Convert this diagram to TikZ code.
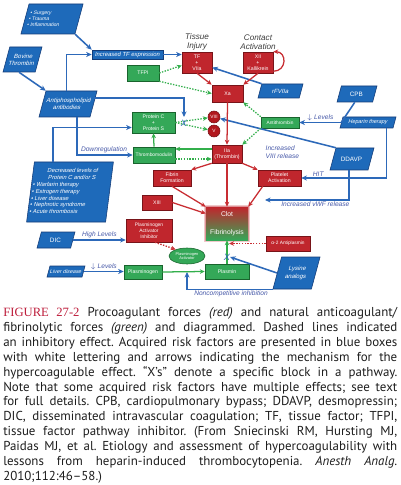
\documentclass[tikz,border=0pt]{standalone}
\usepackage{fontspec}
\usetikzlibrary{arrows.meta,calc,shapes.geometric}
\newfontfamily\diag{Liberation Sans}
\newfontfamily\diagback[FakeSlant=-0.27]{Liberation Sans}
\newfontfamily\diagslant[FakeSlant=0.12]{Liberation Sans}
\newfontfamily\capfont{PT Sans}
\newfontfamily\figfont{Liberation Serif}
\definecolor{boxred}{RGB}{192,38,45}
\definecolor{boxreddark}{RGB}{120,20,25}
\definecolor{circred}{RGB}{178,24,30}
\definecolor{boxgreen}{RGB}{52,168,88}
\definecolor{boxgreendark}{RGB}{25,100,45}
\definecolor{riskblue}{RGB}{30,106,186}
\definecolor{riskdark}{RGB}{20,60,120}
\definecolor{arrowblue}{RGB}{45,105,185}
\definecolor{arrowred}{RGB}{200,45,50}
\definecolor{arrowgreen}{RGB}{50,175,75}
\definecolor{labelblue}{RGB}{70,88,168}
\definecolor{headgray}{RGB}{60,60,60}
\definecolor{captionred}{RGB}{190,30,60}
\definecolor{captiontext}{RGB}{30,30,30}
\begin{document}
\begin{tikzpicture}[
            x=0.25mm, y=-0.25mm,
            redbox/.style={rectangle, draw=boxreddark, fill=boxred, text=white, inner sep=0.5pt, align=center, font=\diag\fontsize{3.7}{4.4}\selectfont},
            greenbox/.style={rectangle, draw=boxgreendark, fill=boxgreen, text=white, inner sep=0.5pt, align=center, font=\diag\fontsize{3.7}{4.4}\selectfont},
            factor/.style={circle, draw=boxreddark, fill=circred, text=white, inner sep=0pt, minimum size=3mm, font=\diag\fontsize{3.4}{4}\selectfont},
            risk/.style={rectangle, xslant=#1, draw=riskdark, fill=riskblue, text=white, inner sep=0.5pt, align=center, font=\diag\fontsize{4.3}{5.1}\selectfont},
            risk/.default=0.27,
            riskbox/.style={rectangle, draw=riskdark, fill=riskblue, text=white, inner sep=0.5pt, font=\diag\itshape\fontsize{4.2}{5}\selectfont},
            clotbox/.style={rectangle, top color=boxred, bottom color=boxgreen, text=white, align=center, inner sep=0pt, minimum width=10.5mm, minimum height=8.25mm, font=\diag\fontsize{4.8}{5.6}\selectfont, preaction={draw=boxred!25, line width=3.5pt}, preaction={draw=boxred!50, line width=1.6pt}},
            head/.style={text=headgray, align=center, inner sep=1pt, font=\diag\itshape\fontsize{5.8}{6.6}\selectfont},
            note/.style={text=labelblue, inner sep=1pt, font=\diag\itshape\fontsize{4.7}{5.6}\selectfont},
            block/.style={text=arrowblue, inner sep=0pt, font=\diag\itshape\fontsize{6.5}{7}\selectfont},
            redline/.style={draw=arrowred, line width=0.9pt, -{Stealth[length=3.5pt,width=3.2pt]}},
            greenline/.style={draw=arrowgreen, line width=0.9pt, -{Stealth[length=3.5pt,width=3.2pt]}},
            inhibit/.style={draw=arrowgreen, line width=0.9pt, dash pattern=on 1pt off 1pt, -{Stealth[length=3.5pt,width=3.2pt]}},
            redinhibit/.style={inhibit, draw=arrowred},
            riskline/.style={draw=arrowblue, line width=1.1pt, -{Stealth[length=4pt,width=3.6pt]}}
        ]
        \path[use as bounding box, fill=white] (0,0) rectangle (400,485);

        \node[risk, minimum width=13.5mm, minimum height=7.5mm, font=\diag\fontsize{3.6}{4.4}\selectfont] (surg) at (52,19) {\begin{tabular}{@{}l@{\hspace{10pt}}}\textbullet\ Surgery\\\textbullet\ Trauma\\\textbullet\ Inflammation\end{tabular}};
        \node[risk, minimum width=8.05mm, minimum height=6.25mm] (bovine) at (22.5,59.5) {Bovine\\Thrombin};
        \node[risk, minimum width=12.75mm, minimum height=6.5mm] (antiphos) at (68,104) {Antiphospholipid\\antibodies};
        \node[riskbox, minimum width=17.75mm, minimum height=2.25mm] (tfexp) at (127.5,54.5) {Increased TF expression};
        \node[greenbox, minimum width=8mm, minimum height=4mm] (tfpi) at (143,73) {TFPI};
        \node[redbox, minimum width=7.5mm, minimum height=5.25mm] (tf) at (197,62.5) {TF\\+\\VIIa};
        \node[redbox, minimum width=7.5mm, minimum height=5.25mm] (xii) at (258,62.5) {XII\\+\\Kallikrein};
        \node[redbox, minimum width=7.75mm, minimum height=4.25mm] (xa) at (227.5,93.5) {Xa};
        \node[risk, minimum width=10.3mm, minimum height=3.5mm] (rfviia) at (280.5,91) {rFVIIa};
        \node[risk, minimum width=8.9mm, minimum height=4mm, font=\diagback\fontsize{4.5}{5.4}\selectfont] (cpb) at (357,94) {CPB};
        \node[risk, minimum width=13.25mm, minimum height=2.75mm, font=\diag\fontsize{3.9}{4.6}\selectfont] (heparin) at (368,122.5) {Heparin therapy};
        \node[greenbox, minimum width=9.5mm, minimum height=2.75mm, font=\diag\fontsize{3.4}{4}\selectfont] (at) at (280,122.5) {Antithrombin};
        \node[factor] (viii) at (214,117) {VIII};
        \node[factor] (v) at (214,131) {V};
        \node[greenbox, minimum width=10.75mm, minimum height=5.25mm] (pcs) at (153.5,122.5) {Protein C\\+\\Protein S};
        \node[greenbox, minimum width=10.5mm, minimum height=4mm, font=\diag\fontsize{3.5}{4.2}\selectfont] (tm) at (154,155) {Thrombomodulin};
        \node[redbox, minimum width=7.5mm, minimum height=4.5mm] (iia) at (227,154) {IIa\\(Thrombin)};
        \node[redbox, minimum width=9.5mm, minimum height=4mm] (fibrin) at (172,178) {Fibrin\\Formation};
        \node[redbox, minimum width=10.75mm, minimum height=4mm] (plt) at (279.5,178) {Platelet\\Activation};
        \node[redbox, minimum width=7.5mm, minimum height=3.75mm] (xiii) at (157,202.5) {XIII};
        \node[clotbox] (clot) at (227,223.5) {Clot\\[7.5pt]Fibrinolysis};
        \node[risk, minimum width=9.5mm, minimum height=5.5mm, font=\diagback\fontsize{4.5}{5.4}\selectfont] (ddavp) at (352,159) {DDAVP};
        \node[risk=0.13, minimum width=19.75mm, minimum height=15mm, font=\diagslant\fontsize{4.1}{4.8}\selectfont] (decr) at (70,192) {Decreased levels of\\Protein C and/or S\\[1pt]\begin{tabular}{@{}l@{\hspace{15pt}}}\textbullet\ Warfarin therapy\\\textbullet\ Estrogen therapy\\\textbullet\ Liver disease\\\textbullet\ Nephrotic syndrome\\\textbullet\ Acute thrombosis\end{tabular}};
        \node[risk, minimum width=8.4mm, minimum height=4mm, font=\diagback\fontsize{4.5}{5.4}\selectfont] (dic) at (56,240) {DIC};
        \node[redbox, minimum width=11.5mm, minimum height=5.75mm, font=\diag\fontsize{3.5}{4.2}\selectfont] (pai) at (149,230.5) {Plasminogen\\Activator\\Inhibitor};
        \node[ellipse, draw=boxgreendark, fill=boxgreen, text=white, inner sep=0pt, minimum width=9mm, minimum height=4mm, align=center, font=\diag\fontsize{2.8}{3.3}\selectfont] (pa) at (187,256) {Plasminogen\\Activator};
        \node[risk, minimum width=8.75mm, minimum height=2.75mm, font=\diag\fontsize{3.8}{4.5}\selectfont] (liver) at (66,271.5) {Liver disease};
        \node[greenbox, minimum width=9.5mm, minimum height=3.5mm] (plg) at (143,272) {Plasminogen};
        \node[greenbox, minimum width=11mm, minimum height=3.75mm] (plasmin) at (227,271.5) {Plasmin};
        \node[redbox, minimum width=11mm, minimum height=3.75mm, font=\diag\fontsize{3.4}{4}\selectfont] (a2ap) at (288,243.5) {α-2 Antiplasmin};
        \node[risk, minimum width=9.6mm, minimum height=8mm] (lysine) at (296.5,273) {Lysine\\analogs};

        \node[head, above] (tissue) at (tf.north) {Tissue\\Injury};
        \node[head, above] (contact) at (xii.north) {Contact\\Activation};

        \draw[riskline] (surg.south east) -- (tfexp.north west);
        \draw[riskline] (bovine.south) -- (antiphos.north west);
        \draw[riskline] (antiphos.north) ++(-5,0) |- (tfexp.west);
        \draw[riskline] (tfexp.east) -- (tfexp.east -| tf.west);
        \draw[riskline] (antiphos.east) ++(0,-6) -| (184,117);
        \draw[riskline] (decr.north) ++(-21,0) |- ($(pcs.west)+(0,5)$);
        \draw[riskline] (antiphos.south) ++(12.5,0) |- (tm.west);
        \draw[riskline] (rfviia.north west) -- ($(tf.east)+(0,5)$);
        \draw[riskline] (heparin.west) -- (at.east);
        \draw[riskline, -] (cpb.south) -- (heparin.west);
        \draw[riskline] (heparin.south) ++(20,0) |- (plt.east);
        \draw[riskline] (ddavp.north west) -- (viii);
        \coordinate (vwfend) at (265,200);
        \draw[riskline] (ddavp.south) |- (vwfend);
        \draw[riskline] (dic.east) -- (dic.east -| pai.west);
        \draw[riskline] (liver.east) -- (liver.east -| plg.west);
        \coordinate (nci) at (pa.south |- plg.east);
        \draw[riskline] (lysine.south west) -| (nci);
        \draw[riskline] (lysine.west) -- (230,257);

        \draw[redline] (tf.south) -- (xa.north west);
        \draw[redline] (xii.south) -- (xa.north east);
        \draw[redline] (xii.south east) ++(0,-2) to[out=0, in=0, looseness=1.8] (xii.north east);
        \draw[redline] (xa.south) -- (iia.north);
        \draw[redline] (iia.south west) -- (fibrin.north east);
        \draw[redline] (iia.south east) -- (plt.north west);
        \draw[redline] (iia.south) -- (clot.north);
        \draw[redline] (fibrin.south) -- (clot.north west);
        \draw[redline] (xiii.east) -- ($(clot.west)+(0,-10)$);
        \draw[redline] ($(plt.south west)+(5,0)$) -- (clot.north east);

        \draw[greenline] (tm.north) -- (pcs.south);
        \draw[greenline] ($(iia.west)+(0,-5)$) -- ($(tm.east)+(0,-6)$);
        \draw[inhibit] ($(tm.east)+(0,4)$) -- ($(iia.west)+(0,5)$);
        \draw[inhibit] (pcs.east) -- (viii);
        \draw[inhibit] (pcs.east) -- (v);
        \draw[inhibit] (tfpi.east) -- ($(tf.west)+(0,3)$);
        \draw[inhibit] (tfpi.south east) -- (xa.west);
        \draw[inhibit] (at.north west) -- (xa.south east);
        \draw[inhibit] (at.south west) -- (iia.north east);
        \draw[greenline] (plg.east) -- (plasmin.west);
        \draw[greenline] (plasmin.north) -- (clot.south);
        \draw[redinhibit, shorten >=1.5pt] (a2ap.west) -- (a2ap.west -| plasmin.north);
        \draw[redinhibit] ($(pai.south)+(6,0)$) -- (pa.150);

        \node[block] (xmark1) at (184,123) {X};
        \node[block] (xmark2) at (227,257) {X};

        \node[note, above] (levels1) at ($(at.east)!0.5!(heparin.west)$) {$\downarrow$ Levels};
        \node[note, align=left, anchor=west] (viiinote) at (264,152) {Increased\\VIII release};
        \node[note, above] (hit) at ($(plt.east)+(17,0)$) {HIT};
        \node[note, below] (vwf) at ($(vwfend)!0.6!(ddavp.south |- vwfend)$) {Increased vWF release};
        \node[note, above] (down) at (104,155) {Downregulation};
        \node[note, above] (high) at ($(dic.east)!0.5!(dic.east -| pai.west)$) {High Levels};
        \node[note, above] (levels2) at ($(liver.east)!0.5!(liver.east -| plg.west)$) {$\downarrow$ Levels};
        \node[note, below] (nonc) at (231,289) {Noncompetitive inhibition};

        \node[anchor=north west, inner sep=0pt, text width=9.85cm, align=justify, text=captiontext, font=\capfont\fontsize{9.2}{10.6}\selectfont\frenchspacing] (caption) at (3,307) {{\figfont\fontsize{9}{10.6}\selectfont\color{captionred}FIGURE 27-2} Procoagulant forces \textit{(red)} and natural anticoagulant/\linebreak
        fibrinolytic forces \textit{(green)} and diagrammed. Dashed lines indicated\linebreak
        an inhibitory effect. Acquired risk factors are presented in blue boxes\linebreak
        with white lettering and arrows indicating the mechanism for the\linebreak
        hypercoagulable effect. “X’s” denote a specific block in a pathway.\linebreak
        Note that some acquired risk factors have multiple effects; see text\linebreak
        for full details. CPB, cardiopulmonary bypass; DDAVP, desmopressin;\linebreak
        DIC, disseminated intravascular coagulation; TF, tissue factor; TFPI,\linebreak
        tissue factor pathway inhibitor. (From Sniecinski RM, Hursting MJ,\linebreak
        Paidas MJ, et al. Etiology and assessment of hypercoagulability with\linebreak
        lessons from heparin-induced thrombocytopenia. \textit{Anesth Analg.}\linebreak
        2010;112:46–58.)};
    \end{tikzpicture}
\end{document}
